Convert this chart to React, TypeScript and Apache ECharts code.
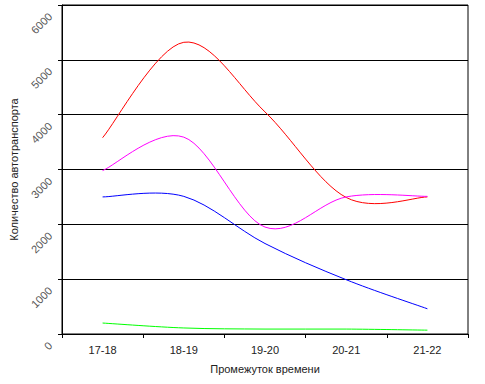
import React, { useEffect, useRef } from "react";
import * as echarts from "echarts";

const categories = ["17-18", "18-19", "19-20", "20-21", "21-22"];
const redValues = [3580, 5320, 4050, 2490, 2500];
const magentaValues = [2980, 3590, 1950, 2500, 2510];
const blueValues = [2500, 2510, 1650, 990, 460];
const greenValues = [200, 110, 90, 90, 70];
const yMin = 0;
const yMax = 6000;
const yInterval = 1000;
const xAxisTitle = "Промежуток времени";
const yAxisTitle = "Количество автотранспорта";

export default function App() {
  const ref = useRef<HTMLDivElement>(null);
  useEffect(() => {
    if (!ref.current) return;
    const chart = echarts.init(ref.current, undefined, { renderer: "svg" });
    const font = "Arial, 'Liberation Sans', sans-serif";
    const mk = (name: string, values: number[], color: string) => ({
      name,
      type: "custom",
      coordinateSystem: "cartesian2d",
      data: values.map((v, i) => [i, v]),
      encode: { x: 0, y: 1 },
      silent: true,
      renderItem: (params: any, api: any) => {
        const i = params.dataIndex;
        const n = values.length;
        if (i >= n - 1) return null;
        const p = (k: number) => {
          const kk = Math.max(0, Math.min(n - 1, k));
          return api.coord([kk, values[kk]]);
        };
        const p0 = p(i - 1);
        const p1 = p(i);
        const p2 = p(i + 1);
        const p3 = p(i + 2);
        const t = 1 / 6;
        return {
          type: "bezierCurve",
          shape: {
            x1: p1[0],
            y1: p1[1],
            cpx1: p1[0] + (p2[0] - p0[0]) * t,
            cpy1: p1[1] + (p2[1] - p0[1]) * t,
            cpx2: p2[0] - (p3[0] - p1[0]) * t,
            cpy2: p2[1] - (p3[1] - p1[1]) * t,
            x2: p2[0],
            y2: p2[1],
          },
          style: { stroke: color, lineWidth: 1, fill: null },
        };
      },
    });
    chart.setOption({
      animation: false,
      backgroundColor: "#ffffff",
      grid: {
        left: 62,
        right: 17,
        top: 5,
        bottom: 50,
        show: true,
        borderColor: "#000",
        borderWidth: 1,
      },
      xAxis: {
        type: "category",
        data: categories,
        boundaryGap: true,
        name: xAxisTitle,
        nameLocation: "middle",
        nameGap: 29,
        nameTextStyle: { fontFamily: font, fontSize: 11, color: "#222" },
        axisLine: { lineStyle: { color: "#000", width: 1 } },
        axisTick: { show: true, length: 4, lineStyle: { color: "#000" } },
        axisLabel: { fontFamily: font, fontSize: 11, color: "#222", margin: 10 },
        splitLine: { show: false },
      },
      yAxis: {
        type: "value",
        min: yMin,
        max: yMax,
        interval: yInterval,
        name: yAxisTitle,
        nameLocation: "middle",
        nameRotate: 90,
        nameGap: 37,
        nameTextStyle: { fontFamily: font, fontSize: 11, color: "#222" },
        axisLine: { show: true, lineStyle: { color: "#000", width: 1 } },
        axisTick: { show: true, length: 4, lineStyle: { color: "#000" } },
        axisLabel: {
          fontFamily: font,
          fontSize: 11,
          color: "#555",
          rotate: 45,
          margin: 10,
          verticalAlign: "top",
          padding: [0, 8, 0, 0],
          formatter: (v: number) => String(v),
        },
        splitLine: { show: true, lineStyle: { color: "#000", width: 1 } },
      },
      series: [
        mk("red", redValues, "#ff0000"),
        mk("magenta", magentaValues, "#ff00ff"),
        mk("blue", blueValues, "#0000ff"),
        mk("green", greenValues, "#00ff00"),
      ],
    });
    return () => chart.dispose();
  }, []);
  return (
    <div
      ref={ref}
      style={{ position: "fixed", left: 0, top: 0, width: 485, height: 384, background: "#fff" }}
    />
  );
}
